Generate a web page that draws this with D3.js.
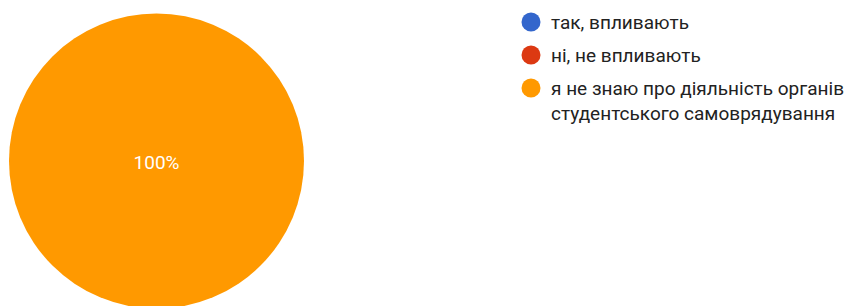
<!DOCTYPE html>
<html>
<head>
<meta charset="utf-8">
<script src="https://cdn.jsdelivr.net/npm/d3@7"></script>
<style>
  body { margin: 0; background: #fff; }
  svg { display: block; }
</style>
</head>
<body>
<div id="chart"></div>
<script>
const labels = ["так, впливають", "ні, не впливають", "я не знаю про діяльність органів студентського самоврядування"];
const values = [0, 0, 100];
const colors = ["#3366cc", "#dc3912", "#ff9900"];

const width = 849, height = 306;
const cx = 156.5, cy = 161, radius = 147.5;

const svg = d3.select("#chart").append("svg")
  .attr("width", width)
  .attr("height", height);

const pie = d3.pie().sort(null).value(d => d.value);
const arc = d3.arc().innerRadius(0).outerRadius(radius);

const data = labels.map((l, i) => ({ label: l, value: values[i], color: colors[i] }));
const total = d3.sum(values);

const g = svg.append("g").attr("transform", `translate(${cx},${cy})`);

const slices = pie(data).filter(d => d.value > 0);
g.selectAll("path")
  .data(slices)
  .join("path")
  .attr("d", arc)
  .attr("fill", d => d.data.color);

// percentage label
g.selectAll("text.pct")
  .data(slices)
  .join("text")
  .attr("class", "pct")
  .attr("transform", d => slices.length === 1 ? "translate(0,0)" : `translate(${arc.centroid(d)})`)
  .attr("text-anchor", "middle")
  .attr("y", 8)
  .attr("fill", "#fff")
  .style("font-family", "Roboto, Arial, sans-serif")
  .style("font-size", "19px")
  .text(d => Math.round(d.value / total * 100) + "%");

// legend
const legend = svg.append("g").attr("transform", "translate(531,0)");
const legendY = [22, 55, 88];
const lineH = 25;

const item = legend.selectAll("g.item")
  .data(data)
  .join("g")
  .attr("class", "item")
  .attr("transform", (d, i) => `translate(0,${legendY[i]})`);

item.append("circle")
  .attr("r", 9.5)
  .attr("fill", d => d.color);

const wrap = {
  "я не знаю про діяльність органів студентського самоврядування": ["я не знаю про діяльність органів", "студентського самоврядування"]
};

item.append("text")
  .attr("fill", "#222")
  .style("font-family", "Roboto, Arial, sans-serif")
  .style("font-size", "19px")
  .selectAll("tspan")
  .data(d => wrap[d.label] || [d.label])
  .join("tspan")
  .attr("x", 20)
  .attr("y", (d, i) => 7 + i * lineH)
  .text(d => d);
</script>
</body>
</html>
